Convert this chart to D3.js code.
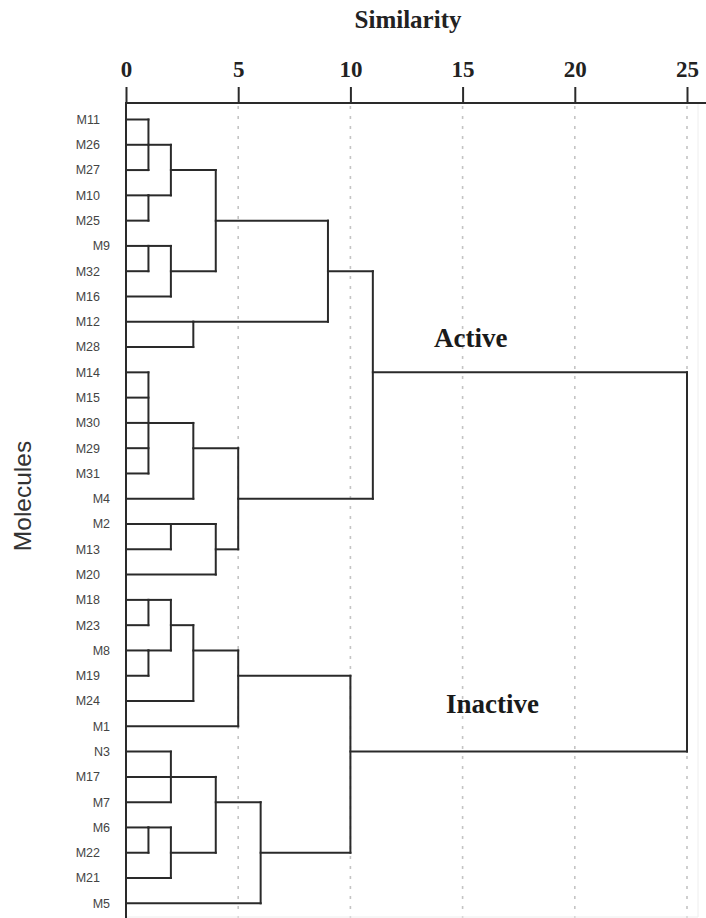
<!DOCTYPE html>
<html><head><meta charset="utf-8">
<script src="https://cdn.jsdelivr.net/npm/d3@7"></script>
<style>body{margin:0;background:#fff}</style>
</head><body>
<svg id="c" width="706" height="918"></svg>
<script>
const leaves = ["M11","M26","M27","M10","M25","M9","M32","M16","M12","M28",
  "M14","M15","M30","M29","M31","M4","M2","M13","M20",
  "M18","M23","M8","M19","M24","M1","N3","M17","M7","M6","M22","M21","M5"];
// [cluster id, members, similarity level]
const merges = [
  ["c1", ["M11","M26","M27"], 1],
  ["c2", ["M10","M25"], 1],
  ["c3", ["c1","c2"], 2],
  ["c4", ["M9","M32"], 1],
  ["c5", ["c4","M16"], 2],
  ["c6", ["c3","c5"], 4],
  ["c7", ["M12","M28"], 3],
  ["c8", ["c6","c7"], 9],
  ["c9", ["M14","M15","M30","M29","M31"], 1],
  ["c10", ["c9","M4"], 3],
  ["c11", ["M2","M13"], 2],
  ["c12", ["c11","M20"], 4],
  ["c13", ["c10","c12"], 5],
  ["active", ["c8","c13"], 11],
  ["c14", ["M18","M23"], 1],
  ["c15", ["M8","M19"], 1],
  ["c16", ["c14","c15"], 2],
  ["c17", ["c16","M24"], 3],
  ["c18", ["c17","M1"], 5],
  ["c19", ["N3","M17","M7"], 2],
  ["c20", ["M6","M22"], 1],
  ["c21", ["c20","M21"], 2],
  ["c22", ["c19","c21"], 4],
  ["c23", ["c22","M5"], 6],
  ["inactive", ["c18","c23"], 10],
  ["root", ["active","inactive"], 25]
];
const ticks = [0, 5, 10, 15, 20, 25];
const groupLabels = [["Active", 434, 347], ["Inactive", 446, 713]];

const svg = d3.select("#c");
const x = d3.scaleLinear().domain([0, 25]).range([126, 687]);
const y = d3.scalePoint().domain(leaves).range([119.5, 903.3]);
const axisY = 103, bottom = 918;
const ink = "#2a2a2a";

// grid
svg.append("g").selectAll("line").data(ticks.filter(t => t > 0)).join("line")
  .attr("x1", d => x(d)).attr("x2", d => x(d))
  .attr("y1", axisY + 3).attr("y2", bottom)
  .attr("stroke", "#c4c4c4").attr("stroke-width", 1.6).attr("stroke-dasharray", "3,7");

// faint frame
svg.append("line").attr("x1", 698).attr("x2", 698).attr("y1", axisY).attr("y2", bottom - 1)
  .attr("stroke", "#eeeeee").attr("stroke-width", 1);
svg.append("line").attr("x1", x(0)).attr("x2", 698).attr("y1", bottom - 1).attr("y2", bottom - 1)
  .attr("stroke", "#eeeeee").attr("stroke-width", 1);

// axis
const ax = svg.append("g").attr("transform", `translate(0,${axisY})`)
  .call(d3.axisTop(x).tickValues(ticks).tickSize(16).tickPadding(10).tickSizeOuter(0));
ax.select(".domain").remove();
ax.selectAll(".tick line").attr("stroke", ink).attr("stroke-width", 2);
ax.selectAll(".tick text").attr("font-family", "Liberation Serif, serif")
  .attr("font-size", 23).attr("font-weight", "bold").attr("fill", "#222");
svg.append("line").attr("x1", x(0) - 1).attr("x2", 706).attr("y1", axisY).attr("y2", axisY)
  .attr("stroke", ink).attr("stroke-width", 2);
svg.append("line").attr("x1", x(0)).attr("x2", x(0)).attr("y1", axisY).attr("y2", bottom)
  .attr("stroke", ink).attr("stroke-width", 2);

svg.append("text").attr("x", 408).attr("y", 28).attr("text-anchor", "middle")
  .attr("font-family", "Liberation Serif, serif").attr("font-size", 25).attr("font-weight", "bold")
  .attr("fill", "#222").text("Similarity");

svg.append("text").attr("transform", "translate(31,496) rotate(-90)").attr("text-anchor", "middle")
  .attr("font-family", "Liberation Sans, Arial, sans-serif").attr("font-size", 24.5)
  .attr("fill", "#333").text("Molecules");

// leaf labels
svg.append("g").selectAll("text").data(leaves).join("text")
  .attr("x", d => d.length === 2 ? 110 : 100).attr("y", d => y(d)).attr("dy", "0.35em")
  .attr("text-anchor", "end").attr("font-family", "Liberation Sans, Arial, sans-serif")
  .attr("font-size", 12.5).attr("fill", "#444").text(d => d);

// dendrogram
const node = {};
leaves.forEach((l, i) => node[l] = { row: i, h: 0 });
const segs = [];
merges.forEach(([id, kids, h]) => {
  const rows = kids.map(k => node[k].row);
  const lo = d3.min(rows), hi = d3.max(rows);
  kids.forEach(k => segs.push([x(node[k].h), y(leaves[node[k].row]), x(h), y(leaves[node[k].row])]));
  segs.push([x(h), y(leaves[lo]), x(h), y(leaves[hi])]);
  node[id] = { row: Math.floor((lo + hi) / 2), h };
});
svg.append("g").selectAll("line").data(segs).join("line")
  .attr("x1", d => d[0]).attr("y1", d => d[1]).attr("x2", d => d[2]).attr("y2", d => d[3])
  .attr("stroke", ink).attr("stroke-width", 2).attr("stroke-linecap", "square");

svg.append("g").selectAll("text").data(groupLabels).join("text")
  .attr("x", d => d[1]).attr("y", d => d[2])
  .attr("font-family", "Liberation Serif, serif").attr("font-size", 27).attr("font-weight", "bold")
  .attr("fill", "#1a1a1a").text(d => d[0]);
</script>
</body></html>
